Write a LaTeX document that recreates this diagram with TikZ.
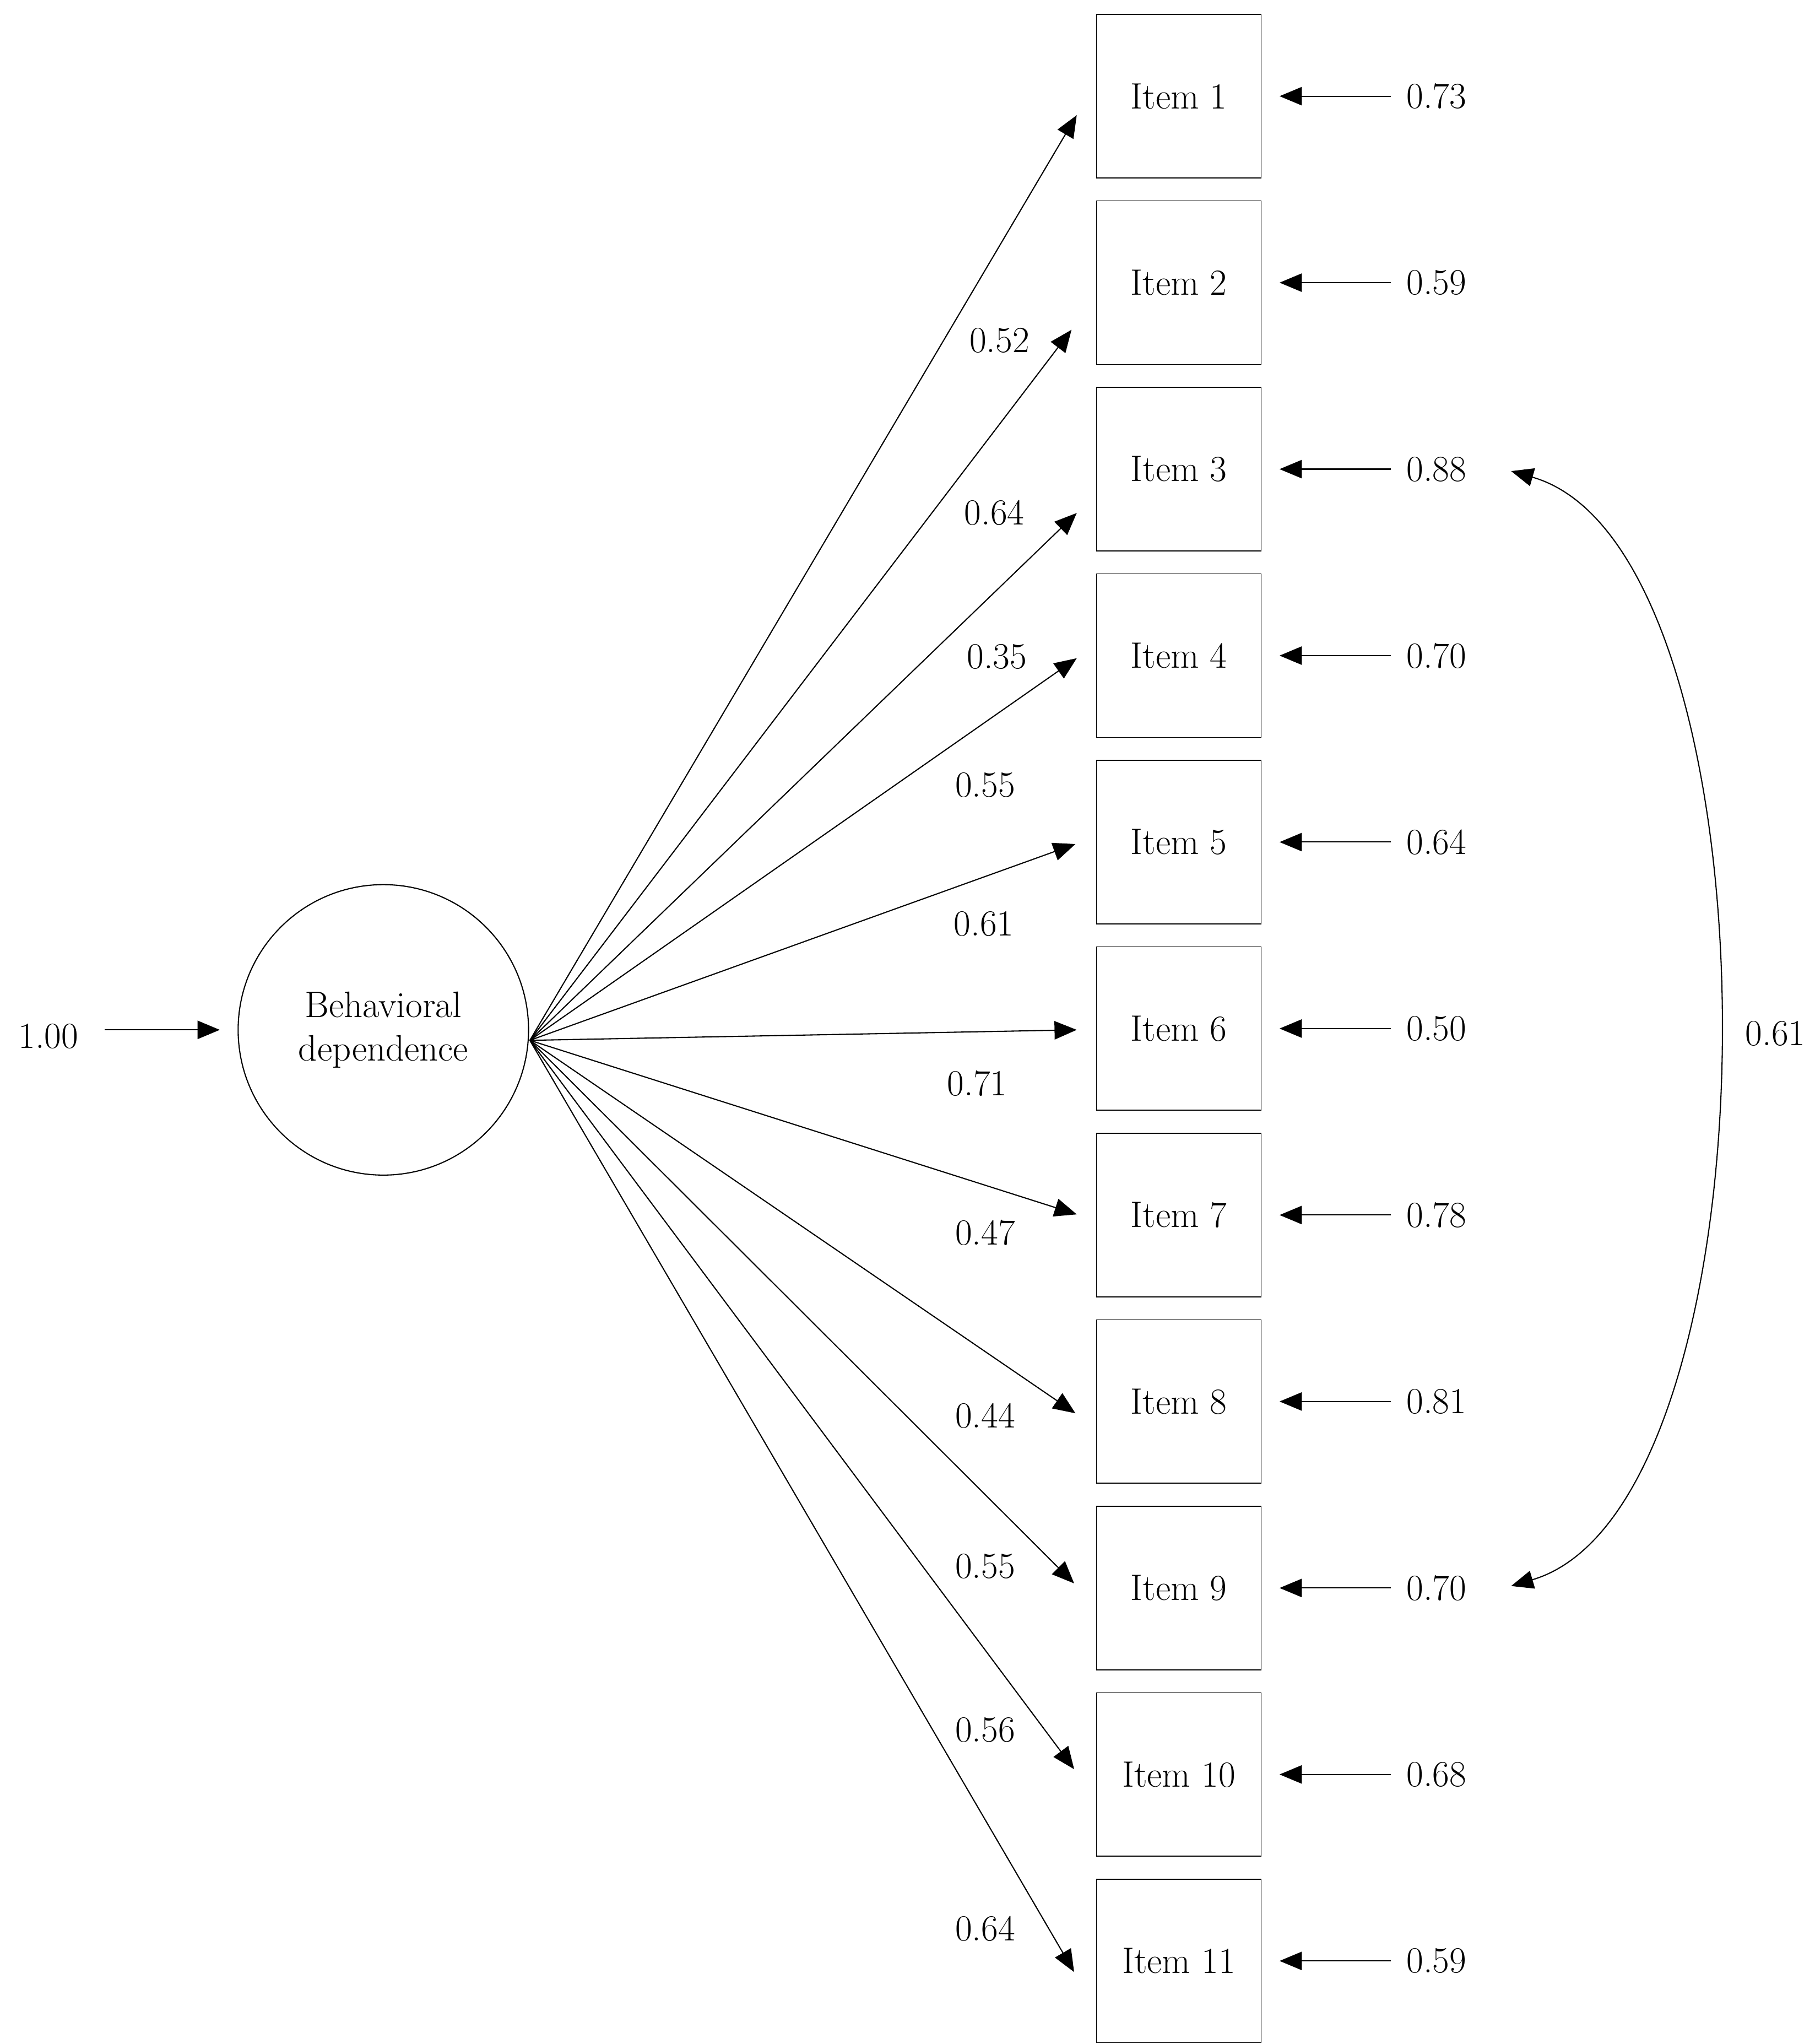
\documentclass[tikz,border=0pt]{standalone}
\usetikzlibrary{arrows.meta}
\begin{document}
\begin{tikzpicture}[x=0.02cm,y=-0.02cm,
  every node/.style={font=\fontsize{16}{19}\selectfont},
  box/.style={draw,minimum width=2.52cm,minimum height=2.5cm,inner sep=0pt},
  arr/.style={-{Triangle[length=0.34cm,width=0.28cm]},line width=0.5pt},
  lab/.style={inner sep=1pt}]
\useasboundingbox (0,0) rectangle (1387,1562);
\node[draw,circle,minimum size=4.44cm,align=center,inner sep=0pt,line width=0.5pt] (f) at (293,787) {Behavioral\\dependence};
\coordinate (o) at (405,795);
\node[lab] (one) at (37,792) {1.00};
\coordinate (oa) at (80,787);
\draw[arr] (oa) -- (168,787);
\foreach \i/\tx/\ty/\r in {1/823/88/0.73,2/819/252/0.59,3/823/392/0.88,4/823/503/0.70,5/822/645/0.64,6/823/787/0.50,7/823/928/0.78,8/822/1080/0.81,9/821/1210/0.70,10/821/1352/0.68,11/821/1507/0.59}{
  \pgfmathsetmacro\cy{73.5+142.5*(\i-1)}
  \node[box] (b\i) at (901,\cy) {Item \i};
  \coordinate (t\i) at (\tx,\ty);
  \draw[arr] (o) -- (t\i);
  \node[lab] (r\i) at (1098,\cy) {\r};
  \coordinate (rs\i) at (1063,\cy);
  \coordinate (re\i) at (978,\cy);
  \draw[arr] (rs\i) -- (re\i);
}
\foreach \n/\x/\y/\t in {a/764/260/0.52,b/760/392/0.64,c/762/502/0.35,d/753/600/0.55,e/752/706/0.61,f/747/828/0.71,g/753/942/0.47,h/753/1082/0.44,i/753/1197/0.55,j/753/1322/0.56,k/753/1474/0.64}{
  \node[lab] (l\n) at (\x,\y) {\t};
}
\coordinate (c1) at (1155,360);
\coordinate (c2) at (1155,1212);
\draw[{Triangle[length=0.34cm,width=0.28cm]}-{Triangle[length=0.34cm,width=0.28cm]},line width=0.5pt] (c1) .. controls (1365,420) and (1365,1150) .. (c2);
\node[lab] (cov) at (1357,790) {0.61};
\end{tikzpicture}
\end{document}
